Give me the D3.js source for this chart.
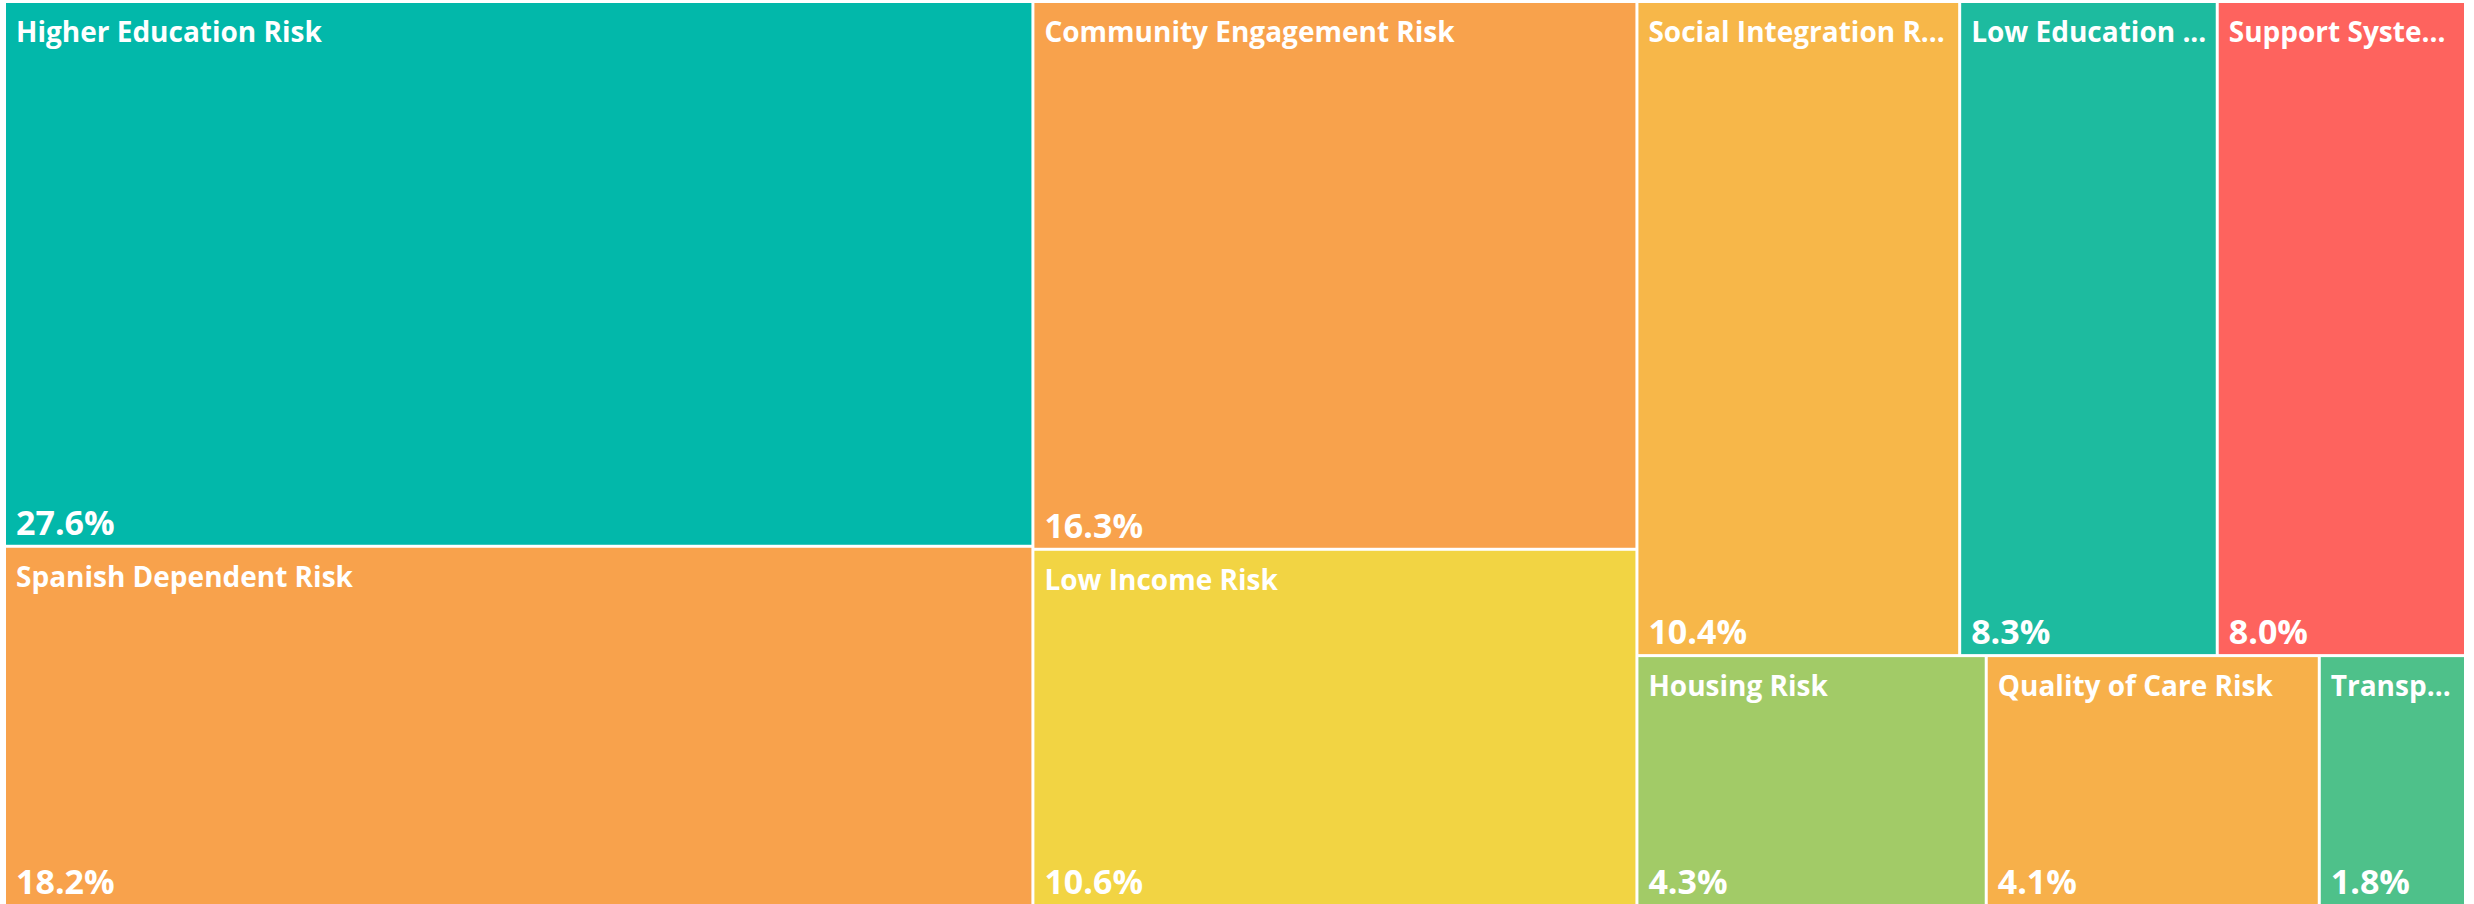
<!DOCTYPE html>
<html>
<head>
<meta charset="utf-8">
<script src="https://cdn.jsdelivr.net/npm/d3@7"></script>
<style>
  html, body { margin: 0; padding: 0; background: #fff; }
  svg { display: block; }
</style>
</head>
<body>
<div id="chart"></div>
<script>
var categories = ["Higher Education Risk", "Spanish Dependent Risk", "Community Engagement Risk", "Low Income Risk",
  "Social Integration Risk", "Low Education Risk", "Support System Risk", "Housing Risk", "Quality of Care Risk", "Transportation Risk"];
var values = [27.6, 18.2, 16.3, 10.6, 10.4, 8.3, 8.0, 4.3, 4.1, 1.8];
var colors = ["#02b8aa", "#f8a24c", "#f8a24c", "#f2d443", "#f7b749", "#1dbb9f", "#fe635e", "#a2cb67", "#f7b04a", "#4ec18a"];

var width = 2474, height = 904;
var gap = 3;
// tile in a fixed box, then stretch onto the drawing area
var tileW = 2469, tileH = 898;

var svg = d3.select("#chart").append("svg")
    .attr("width", width)
    .attr("height", height);

var root = d3.hierarchy({children: categories.map(function(c, i) { return {name: c, value: values[i], color: colors[i]}; })})
    .sum(function(d) { return d.value || 0; })
    .sort(function(a, b) { return b.value - a.value; });

d3.treemap()
    .tile(d3.treemapSquarify)
    .size([tileW, tileH])(root);

var x = d3.scaleLinear().domain([0, tileW]).range([6 - gap / 2, 2464 + gap / 2]);
var y = d3.scaleLinear().domain([0, tileH]).range([3 - gap / 2, height + gap / 2]);

var cell = svg.selectAll("g.cell")
    .data(root.leaves())
    .join("g")
    .attr("class", "cell")
    .attr("transform", function(d) { return "translate(" + (x(d.x0) + gap / 2) + "," + (y(d.y0) + gap / 2) + ")"; });

function cw(d) { return x(d.x1) - x(d.x0) - gap; }
function ch(d) { return y(d.y1) - y(d.y0) - gap; }

cell.append("rect")
    .attr("width", cw)
    .attr("height", ch)
    .attr("fill", function(d) { return d.data.color; });

var fontFamily = "'Segoe UI', 'Open Sans', sans-serif";

cell.append("text")
    .attr("class", "label")
    .attr("x", 10)
    .attr("y", 39)
    .attr("fill", "#fff")
    .style("font-family", fontFamily)
    .style("font-weight", 700)
    .style("font-size", "28px")
    .text(function(d) { return d.data.name; })
    .each(function(d) {
      // cut long names with "..."
      var el = d3.select(this);
      var maxW = cw(d) - 18;
      var txt = d.data.name;
      if (this.getComputedTextLength() > maxW) {
        while (txt.length > 0) {
          txt = txt.slice(0, -1);
          el.text(txt + "...");
          if (this.getComputedTextLength() <= maxW) break;
        }
      }
    });

cell.append("text")
    .attr("class", "pct")
    .attr("x", 10)
    .attr("y", function(d) { return ch(d) - 10; })
    .attr("fill", "#fff")
    .style("font-family", fontFamily)
    .style("font-weight", 700)
    .style("font-size", "34px")
    .text(function(d) { return d3.format(".1f")(d.value) + "%"; });
</script>
</body>
</html>
